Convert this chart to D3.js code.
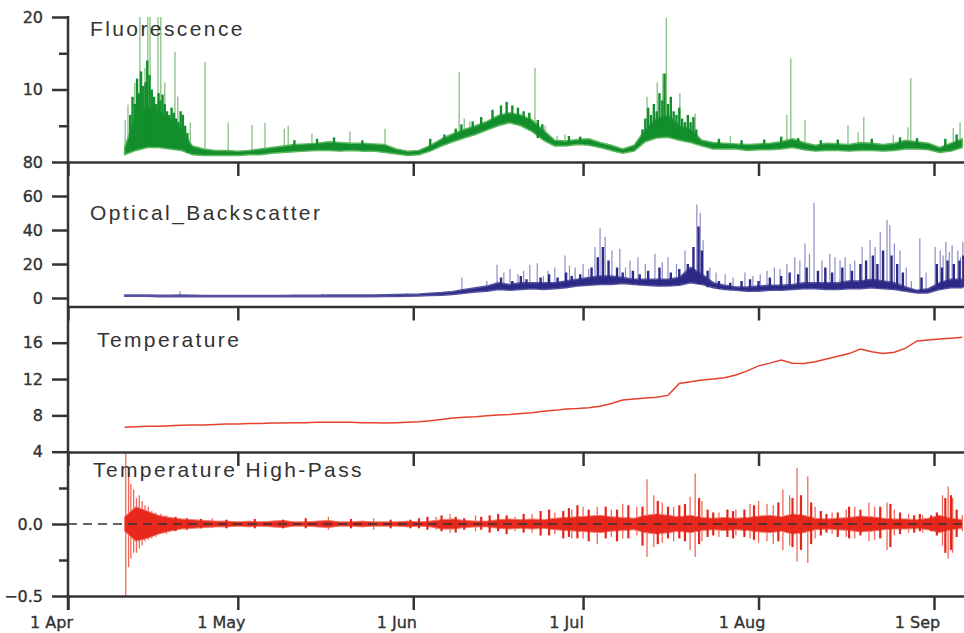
<!DOCTYPE html>
<html>
<head>
<meta charset="utf-8">
<script src="https://cdn.jsdelivr.net/npm/d3@7"></script>
<style>
  body { margin: 0; background: #fff; }
  .tick text { font-family: "DejaVu Sans", sans-serif; font-size: 16px; fill: #333; stroke: #333; stroke-width: 0.35px; }
  .title { font-family: "Liberation Sans", Arial, sans-serif; font-size: 21px; letter-spacing: 2.4px; fill: #333; }
</style>
</head>
<body>
<script>
// sample days, counted from 1 Apr
let days = [
    10, 12, 14, 16, 18, 20, 22, 24, 26, 28,
    30, 32, 34, 36, 38, 40, 42, 44, 46, 48,
    50, 52, 54, 56, 58, 60, 62, 64, 66, 68,
    70, 72, 74, 76, 78, 80, 82, 84, 86, 88,
    90, 92, 94, 96, 98, 100, 102, 104, 106, 108,
    110, 112, 114, 116, 118, 120, 122, 124, 126, 128,
    130, 132, 134, 136, 138, 140, 142, 144, 146, 148,
    150, 152, 154, 156, 158
];

let monthDays = [0, 30, 61, 91, 122, 153];
let monthLabels = ['1 Apr', '1 May', '1 Jun', '1 Jul', '1 Aug', '1 Sep'];

// Fluorescence: band (low / high), dense bursts and thin spikes, [day, value]
let fluorLo = [
    1.0, 1.6, 2.0, 2.0, 1.8, 1.6, 1.0, 0.9, 0.9, 0.9,
    0.9, 1.0, 1.0, 1.2, 1.3, 1.4, 1.5, 1.6, 1.6, 1.5,
    1.6, 1.5, 1.5, 1.3, 1.1, 0.9, 1.0, 1.5, 2.2, 2.8,
    3.3, 3.8, 4.4, 5.0, 5.4, 5.0, 4.2, 3.0, 2.2, 2.2,
    2.4, 2.3, 2.0, 1.6, 1.2, 1.5, 2.8, 3.3, 3.4, 3.0,
    2.7, 2.2, 1.8, 1.8, 1.8, 1.6, 1.7, 1.7, 1.8, 2.0,
    1.7, 1.5, 1.6, 1.6, 1.5, 1.6, 1.6, 1.5, 1.6, 1.8,
    1.8, 1.7, 1.3, 1.5, 2.0
];
let fluorHi = [
    2.0, 6.5, 7.5, 7.0, 6.0, 4.5, 2.2, 1.8, 1.6, 1.6,
    1.5, 1.6, 1.8, 2.0, 2.2, 2.4, 2.5, 2.6, 2.8, 2.7,
    2.6, 2.6, 2.5, 2.4, 1.8, 1.5, 1.6, 2.3, 3.2, 3.9,
    4.5, 5.0, 5.6, 6.4, 6.8, 6.5, 5.8, 4.4, 3.0, 2.9,
    3.1, 3.2, 2.7, 2.3, 1.8, 2.3, 4.5, 6.0, 6.5, 5.0,
    4.5, 3.0, 2.7, 2.6, 2.5, 2.4, 2.5, 2.6, 2.8, 3.2,
    2.7, 2.3, 2.6, 2.5, 2.4, 2.7, 2.6, 2.4, 2.6, 3.0,
    2.8, 2.6, 2.0, 2.6, 3.2
];
let fluorDense = [
    [11.0, 6.5], [11.4, 9.0], [11.8, 8.0], [12.2, 11.5], [12.5, 9.5], [12.9, 12.5], [13.3, 10.5],
    [13.7, 11.0], [14.0, 14.0], [14.4, 12.0], [14.8, 10.0], [15.2, 9.0], [15.6, 8.0], [16.0, 9.5],
    [16.3, 8.5], [16.7, 9.3], [17.1, 8.0], [17.5, 7.0], [17.9, 6.5], [18.3, 7.5], [18.7, 6.8],
    [19.1, 6.0], [19.5, 5.5], [19.9, 7.0], [20.3, 6.5], [20.7, 5.0], [21.1, 4.0],
    [40, 3.0], [44, 3.2], [47, 3.4], [52, 3.0],
    [64, 3.2], [66.5, 3.8], [68.5, 4.6], [69.5, 5.2], [71.5, 5.6], [73, 6.2], [75, 7.2],
    [76.5, 7.8], [77.5, 8.3], [78.5, 7.8], [79.5, 7.5], [80.5, 7.0], [81.5, 6.8], [83, 5.8],
    [83.8, 5.2], [88.5, 3.6], [90.5, 3.5],
    [101.5, 4.5], [102, 6], [102.5, 7.5], [103, 6.5], [103.5, 8], [104, 7], [104.5, 9.5],
    [105, 8.5], [105.4, 12.2], [106, 8], [106.5, 9], [107, 7], [107.5, 6.5], [108, 7.5],
    [108.5, 6], [109, 5.5], [109.5, 6.5], [110, 5.5], [110.5, 6.2], [111, 4.5],
    [115, 3.2], [119, 3.0], [123, 3.1], [126, 3.5], [129, 3.3], [133, 3.0], [136, 3.1],
    [142, 3.2], [147, 3.4], [150, 3.3], [155, 3.2], [157, 3.8]
];
let fluorSpikes = [
    [10.1, 5.8], [10.6, 7.9], [11.8, 10.9], [12.7, 20], [13.6, 13.0], [14.1, 20], [14.5, 20],
    [15.9, 20], [16.4, 20], [17.1, 11], [18.9, 15.2], [19.4, 9], [21.6, 5.5], [24.2, 13.8],
    [28.3, 5.4], [32.5, 5.1], [34.8, 5.4], [38.2, 4.6], [38.9, 5.0], [43.1, 3.9], [49.8, 4.2],
    [56, 4.6], [69.1, 12.4], [70, 6.0], [71, 5.6], [81.1, 6.0], [82.5, 13.0], [84.3, 5.0],
    [86.4, 3.6], [87.8, 3.8], [102.3, 9], [104.1, 11], [105.1, 12.2], [105.7, 19.9],
    [108.1, 9.5], [110.8, 6.7], [117, 3.6], [127, 6.5], [127.7, 14.3], [130.2, 5.8],
    [137.8, 5.1], [139.6, 4.1], [140.6, 6.2], [145.8, 3.7], [148.4, 4.8], [148.9, 11.6],
    [156.4, 4.7], [157.6, 5.5]
];

// Optical backscatter
let opticLo = [
    1.0, 1.0, 1.0, 0.8, 0.8, 0.8, 0.8, 0.7, 0.7, 0.7,
    0.7, 0.7, 0.7, 0.7, 0.7, 0.8, 0.8, 0.8, 0.8, 0.8,
    0.8, 0.8, 0.8, 0.9, 0.9, 1.0, 1.2, 1.4, 1.6, 2.0,
    2.8, 3.5, 4.0, 5.0, 4.5, 5.0, 5.5, 5.0, 5.5, 6.0,
    7.0, 7.5, 8.0, 8.0, 8.5, 8.0, 7.5, 7.0, 7.0, 7.5,
    9.0, 8.0, 6.0, 5.0, 4.5, 4.0, 4.0, 4.5, 4.5, 5.0,
    5.5, 5.5, 5.0, 5.0, 5.5, 5.5, 6.0, 5.5, 5.0, 4.0,
    3.0, 3.0, 5.0, 6.0, 6.0
];
let opticHi = [
    1.8, 1.8, 1.8, 1.6, 1.6, 1.8, 1.6, 1.4, 1.4, 1.4,
    1.4, 1.5, 1.4, 1.5, 1.5, 1.6, 1.6, 1.6, 1.7, 1.7,
    1.7, 1.8, 1.8, 1.9, 2.0, 2.2, 2.4, 2.8, 3.2, 3.8,
    5.0, 6.0, 7.0, 9, 8, 9, 9, 9, 9, 10,
    11, 12, 13, 13, 12, 11, 11, 11, 11, 12,
    18, 14, 9, 7.5, 6.5, 6.5, 7, 7.5, 7.5, 8,
    9, 9, 9, 9, 10, 10, 11, 10, 9, 6.5,
    4.5, 5.5, 9, 11, 11
];
let opticDense = [
    [76.5, 12], [78.5, 10], [80, 13], [81, 11], [83.5, 12], [85, 14], [86.5, 12], [88, 15],
    [89, 13], [90.5, 14], [92.5, 18], [93.6, 24], [94.5, 30], [95.5, 22], [97, 18], [98, 15],
    [99.8, 16], [101, 14], [102.5, 16], [104.5, 18], [106.5, 15], [108, 17], [109.5, 20],
    [110.5, 30], [111.4, 42], [112, 28], [113, 16], [115, 10], [117, 9], [119, 10], [120.5, 11],
    [122, 10], [124, 12], [126, 13], [127.5, 15], [129, 14], [130.5, 18], [132.5, 16],
    [133.8, 18], [135, 15], [136.8, 18], [138.5, 16], [140, 20], [141, 22], [142.2, 25],
    [143, 20], [144, 28], [145.5, 25], [146.5, 20], [147.5, 15], [150.8, 12], [153.5, 20],
    [154.4, 18], [155.4, 22], [156.5, 20], [157.5, 22], [158.2, 25]
];
let opticSpikes = [
    [19.8, 4], [45, 2.5], [60, 3], [69.6, 12], [74, 10], [75.8, 19.5], [77, 15], [78.1, 17],
    [79.5, 14], [80.5, 16], [81.6, 19.5], [82.9, 20.5], [84, 13], [84.8, 16], [86, 18],
    [87.8, 25], [88.6, 19], [89.6, 18], [91, 20], [92, 17], [93.1, 30], [94, 41], [94.9, 36],
    [96.1, 28], [97.5, 29], [98.5, 18], [99.3, 22], [100.7, 24], [102, 20], [103.7, 26],
    [105, 21], [106, 24], [107.5, 20], [109, 28], [111.1, 55], [111.7, 50], [112.2, 34],
    [113.4, 18], [114.5, 15], [116.1, 14], [117.5, 12], [119.6, 15], [121, 13], [122.3, 14],
    [123.5, 16], [124.8, 18], [125.8, 17], [127, 20], [128.4, 24], [129.3, 22], [130.2, 32],
    [131, 26], [131.8, 56], [133.2, 22], [134.6, 26], [135.5, 24], [136.4, 22], [137.3, 24],
    [138.2, 20], [139, 22], [140.3, 30], [141.7, 34], [142.6, 30], [143.5, 39], [144.7, 46],
    [145.2, 43], [146, 32], [147, 28], [148.1, 18], [149, 10], [150.5, 35], [151.6, 15],
    [153.2, 30], [154.1, 28], [154.6, 25], [155.1, 33], [155.7, 27], [156.2, 31], [157.2, 28],
    [157.7, 24], [158.1, 33]
];

// Temperature
let temp = [
    6.7, 6.75, 6.8, 6.8, 6.85, 6.9, 6.95, 6.95, 7.0, 7.05,
    7.05, 7.1, 7.1, 7.15, 7.15, 7.2, 7.2, 7.25, 7.25, 7.25,
    7.25, 7.2, 7.2, 7.15, 7.2, 7.25, 7.3, 7.4, 7.55, 7.7,
    7.8, 7.85, 7.95, 8.05, 8.1, 8.2, 8.3, 8.45, 8.55, 8.7,
    8.75, 8.85, 9.0, 9.3, 9.7, 9.8, 9.9, 10.0, 10.2, 11.5,
    11.7, 11.9, 12.0, 12.15, 12.45, 12.9, 13.45, 13.75, 14.1, 13.75,
    13.7, 13.9, 14.2, 14.5, 14.8, 15.3, 15.0, 14.8, 14.95, 15.4,
    16.2, 16.3, 16.4, 16.5, 16.6
];

// Temperature high-pass: band, dense bursts and tall spikes, [day, high, low]
let hpHi = [
    0.05, 0.12, 0.09, 0.06, 0.045, 0.035, 0.03, 0.025, 0.02, 0.02,
    0.015, 0.02, 0.015, 0.02, 0.025, 0.015, 0.015, 0.02, 0.025, 0.015,
    0.015, 0.02, 0.015, 0.015, 0.015, 0.02, 0.015, 0.02, 0.03, 0.035,
    0.025, 0.02, 0.02, 0.03, 0.035, 0.03, 0.035, 0.03, 0.04, 0.045,
    0.05, 0.055, 0.06, 0.05, 0.045, 0.04, 0.06, 0.07, 0.06, 0.05,
    0.06, 0.045, 0.04, 0.045, 0.04, 0.045, 0.055, 0.06, 0.05, 0.07,
    0.06, 0.04, 0.035, 0.04, 0.045, 0.055, 0.05, 0.04, 0.035, 0.035,
    0.03, 0.04, 0.06, 0.04, 0.03
];
let hpLo = [
    -0.05, -0.12, -0.1, -0.07, -0.05, -0.035, -0.03, -0.025, -0.02, -0.02,
    -0.015, -0.02, -0.015, -0.02, -0.025, -0.015, -0.015, -0.02, -0.025, -0.015,
    -0.015, -0.02, -0.015, -0.015, -0.015, -0.02, -0.015, -0.02, -0.035, -0.035,
    -0.025, -0.02, -0.02, -0.03, -0.035, -0.03, -0.035, -0.03, -0.04, -0.045,
    -0.05, -0.055, -0.06, -0.05, -0.045, -0.04, -0.06, -0.07, -0.06, -0.05,
    -0.06, -0.045, -0.04, -0.045, -0.04, -0.045, -0.055, -0.06, -0.05, -0.07,
    -0.06, -0.04, -0.035, -0.04, -0.045, -0.055, -0.05, -0.04, -0.035, -0.035,
    -0.03, -0.04, -0.06, -0.04, -0.03
];
let hpDense = [
    [19, 0.05, -0.05], [21, 0.04, -0.04], [23.5, 0.035, -0.03], [28, 0.03, -0.03], [33, 0.035, -0.03],
    [38, 0.03, -0.03], [42, 0.04, -0.03], [50, 0.035, -0.03], [57, 0.03, -0.03],
    [60.5, 0.03, -0.03], [62, 0.04, -0.03], [63.5, 0.05, -0.04], [66, 0.06, -0.05],
    [68.5, 0.05, -0.06], [70, 0.04, -0.04], [73, 0.05, -0.04], [74.5, 0.06, -0.06],
    [76, 0.07, -0.05], [77.5, 0.06, -0.07], [80.5, 0.07, -0.06], [83.5, 0.09, -0.08],
    [85, 0.1, -0.08], [87.5, 0.09, -0.1], [88.5, 0.11, -0.09], [90, 0.13, -0.1],
    [92, 0.1, -0.12], [95, 0.12, -0.1], [97, 0.1, -0.12], [99, 0.13, -0.1], [101.5, 0.12, -0.15],
    [104.2, 0.16, -0.14], [106, 0.12, -0.1], [108, 0.13, -0.1], [109, 0.14, -0.12],
    [111.5, 0.18, -0.14], [113, 0.1, -0.09], [114, 0.08, -0.08], [116.5, 0.1, -0.09],
    [117.5, 0.09, -0.1], [119.5, 0.1, -0.09], [121.2, 0.13, -0.11], [125.5, 0.15, -0.12],
    [128, 0.18, -0.16], [129.5, 0.2, -0.18], [131.3, 0.15, -0.14], [133, 0.09, -0.08],
    [134, 0.07, -0.06], [136, 0.08, -0.09], [138, 0.12, -0.1], [140, 0.1, -0.08],
    [143.5, 0.12, -0.1], [145.3, 0.14, -0.16], [147, 0.08, -0.07], [149.5, 0.06, -0.06],
    [150.5, 0.07, -0.05], [152.5, 0.06, -0.05], [153.5, 0.08, -0.08], [155, 0.18, -0.2],
    [156, 0.2, -0.18], [157, 0.1, -0.09]
];
let hpSpikes = [
    [10.2, 0.5, -0.5], [10.7, 0.36, -0.3], [11.1, 0.28, -0.24], [11.6, 0.24, -0.2],
    [12.1, 0.18, -0.2], [12.6, 0.2, -0.17], [13.1, 0.16, -0.15], [13.6, 0.13, -0.12],
    [14.2, 0.12, -0.11], [14.8, 0.09, -0.1], [15.5, 0.08, -0.09], [16.4, 0.07, -0.07],
    [17.4, 0.06, -0.07], [25.5, 0.04, -0.03], [46, 0.05, -0.04], [54, 0.04, -0.04],
    [65, 0.05, -0.04], [67.5, 0.07, -0.06], [72, 0.06, -0.05], [79, 0.05, -0.05],
    [82, 0.07, -0.06], [86, 0.08, -0.07], [89, 0.1, -0.1], [91, 0.12, -0.1],
    [93.5, 0.12, -0.14], [96, 0.1, -0.09], [98, 0.14, -0.1], [100.5, 0.12, -0.08],
    [102.3, 0.31, -0.23], [103.5, 0.2, -0.16], [105, 0.15, -0.13], [107, 0.12, -0.12],
    [109.9, 0.19, -0.18], [110.8, 0.35, -0.23], [112, 0.16, -0.12], [115, 0.08, -0.09],
    [118, 0.1, -0.08], [120.5, 0.14, -0.1], [122, 0.16, -0.13], [123.5, 0.14, -0.12],
    [124.6, 0.13, -0.14], [126.3, 0.24, -0.18], [127.5, 0.2, -0.15], [128.8, 0.39, -0.26],
    [130.7, 0.33, -0.27], [132, 0.12, -0.1], [135, 0.08, -0.07], [137.5, 0.1, -0.09],
    [139, 0.12, -0.1], [141.5, 0.15, -0.12], [142.5, 0.12, -0.11], [144.7, 0.15, -0.18],
    [146, 0.1, -0.08], [148.5, 0.07, -0.06], [151, 0.06, -0.06], [154.5, 0.2, -0.15],
    [155.5, 0.26, -0.24], [156.3, 0.18, -0.2], [158, 0.06, -0.05]
];

let width = 964;
let height = 633;

var svg = d3.select("body")
    .append("svg")
    .attr("width", width)
    .attr("height", height);

let start = Date.UTC(2007, 3, 1);
function toDate(d) {
    return new Date(start + d * 864e5);
}

// x scale shared by all panels
var x = d3.scaleUtc()
    .domain([toDate(0), toDate(158.3)])
    .range([68, 964]);

// one y scale per panel
var yFl = d3.scaleLinear().domain([0, 20]).range([162, 17]);
var yOp = d3.scaleLinear().domain([0, 80]).range([298, 162]);
var yTp = d3.scaleLinear().domain([4, 16]).range([451.7, 342.7]);
var yHp = d3.scaleLinear().domain([-0.5, 0.5]).range([596, 452]);

// clip rectangles for each panel
let panels = [
    { id: "cFl", top: 0, bottom: 162 },
    { id: "cOp", top: 162, bottom: 306.5 },
    { id: "cTp", top: 306.5, bottom: 452 },
    { id: "cHp", top: 452, bottom: 596 }
];
var defs = svg.append("defs");
panels.forEach(function (p) {
    defs.append("clipPath").attr("id", p.id)
        .append("rect")
        .attr("x", 68).attr("y", p.top)
        .attr("width", 964 - 68).attr("height", p.bottom - p.top);
});

function nearestLo(lo, day) {
    let i = Math.max(0, Math.min(days.length - 1, Math.round((day - days[0]) / 2)));
    return lo[i];
}

function spikeLines(g, y, lo, list, color, w) {
    g.append("g")
        .selectAll("line")
        .data(list)
        .enter()
        .append("line")
        .attr("x1", function (d) { return x(toDate(d[0])); })
        .attr("x2", function (d) { return x(toDate(d[0])); })
        .attr("y1", function (d) { return y(nearestLo(lo, d[0]) + 0.3); })
        .attr("y2", function (d) { return y(d[1]); })
        .attr("stroke", color)
        .attr("stroke-width", w);
}

function drawBand(y, lo, hi, dense, spikes, clip, fill, halo, spikeColor) {
    var g = svg.append("g").attr("clip-path", "url(#" + clip + ")");
    let rows = days.map(function (d, i) { return { day: d, lo: lo[i], hi: hi[i] }; });

    spikeLines(g, y, lo, spikes, spikeColor, 1.2);

    var area = d3.area()
        .x(function (d) { return x(toDate(d.day)); })
        .y0(function (d) { return y(d.lo); })
        .y1(function (d) { return y(d.hi); });

    g.append("path")
        .datum(rows)
        .attr("d", area)
        .attr("fill", fill)
        .attr("stroke", halo)
        .attr("stroke-width", 1.5)
        .attr("stroke-linejoin", "round");

    // dense bursts drawn over the band so they merge with it
    spikeLines(g, y, lo, dense, fill, 2.4);
}

// Fluorescence
drawBand(yFl, fluorLo, fluorHi, fluorDense, fluorSpikes, "cFl", "#128f2c", "#5cb85f", "#7dbb7a");

// Optical backscatter
drawBand(yOp, opticLo, opticHi, opticDense, opticSpikes, "cOp", "#2c2a86", "#5553a0", "#8e8cc6");

// Temperature line
var gTp = svg.append("g").attr("clip-path", "url(#cTp)");
gTp.append("path")
    .datum(days)
    .attr("d", d3.line()
        .x(function (d) { return x(toDate(d)); })
        .y(function (d, i) { return yTp(temp[i]); }))
    .attr("fill", "none")
    .attr("stroke", "#e6402e")
    .attr("stroke-width", 1.5);

// Temperature high-pass
var gHp = svg.append("g").attr("clip-path", "url(#cHp)");
function hpLines(list, color, w) {
    gHp.append("g")
        .selectAll("line")
        .data(list)
        .enter()
        .append("line")
        .attr("x1", function (d) { return x(toDate(d[0])); })
        .attr("x2", function (d) { return x(toDate(d[0])); })
        .attr("y1", function (d) { return yHp(d[1]); })
        .attr("y2", function (d) { return yHp(d[2]); })
        .attr("stroke", color)
        .attr("stroke-width", w);
}
hpLines(hpSpikes, "#f0685a", 1.3);

gHp.append("path")
    .datum(days)
    .attr("d", d3.area()
        .x(function (d) { return x(toDate(d)); })
        .y0(function (d, i) { return yHp(hpLo[i]); })
        .y1(function (d, i) { return yHp(hpHi[i]); }))
    .attr("fill", "#e8281c")
    .attr("stroke", "#f07a6e")
    .attr("stroke-width", 1);

hpLines(hpDense, "#e4261a", 2.2);

// dashed zero line
svg.append("line")
    .attr("x1", x.range()[0]).attr("x2", x.range()[1])
    .attr("y1", yHp(0)).attr("y2", yHp(0))
    .attr("stroke", "#333")
    .attr("stroke-width", 1.6)
    .attr("stroke-dasharray", "9,6");

// x axes: panel separators with inner ticks, bottom axis with labels
let monthDates = monthDays.map(toDate);
[162, 306.5, 452].forEach(function (yy) {
    svg.append("g")
        .attr("class", "xaxis")
        .attr("transform", "translate(0," + yy + ")")
        .call(d3.axisBottom(x).tickValues(monthDates).tickSize(14).tickSizeOuter(0).tickFormat(""));
});
var xBottom = svg.append("g")
    .attr("class", "xaxis")
    .attr("transform", "translate(0,596)")
    .call(d3.axisBottom(x)
        .tickValues(monthDates)
        .tickSize(14)
        .tickSizeOuter(0)
        .tickPadding(7)
        .tickFormat(function (d, i) { return monthLabels[i]; }));
xBottom.selectAll(".tick text").attr("dx", -17);

// y axes
function yAxis(scale, values, fmt) {
    var g = svg.append("g")
        .attr("class", "yaxis")
        .attr("transform", "translate(68,0)")
        .call(d3.axisLeft(scale).tickValues(values).tickSize(16).tickPadding(9).tickFormat(fmt));
    g.select(".domain").remove();
}
function yMinor(scale, values) {
    var g = svg.append("g")
        .attr("class", "yaxis")
        .attr("transform", "translate(68,0)")
        .call(d3.axisLeft(scale).tickValues(values).tickSize(9).tickFormat(""));
    g.select(".domain").remove();
}

let flTicks = [10, 20];
let flMinor = [5, 15];
let opTicks = [0, 20, 40, 60, 80];
let tpTicks = [4, 8, 12, 16];
let hpTicks = [-0.5, 0];
let hpMinor = [-0.25, 0.25];

yAxis(yFl, flTicks, d3.format("d"));
yMinor(yFl, flMinor);
yAxis(yOp, opTicks, d3.format("d"));
yAxis(yTp, tpTicks, d3.format("d"));
yAxis(yHp, hpTicks, d3.format(".1f"));
yMinor(yHp, hpMinor);

// left axis line
svg.append("line")
    .attr("x1", 68).attr("x2", 68)
    .attr("y1", 16).attr("y2", 610)
    .attr("stroke", "#333")
    .attr("stroke-width", 2.5);

svg.selectAll(".xaxis .domain, .xaxis line, .yaxis line")
    .attr("stroke", "#333")
    .attr("stroke-width", 2.5);

// panel titles
let titles = ["Fluorescence", "Optical_Backscatter", "Temperature", "Temperature High-Pass"];
let titlePos = [[90, 36], [90, 220], [97, 347], [93, 477]];
svg.selectAll("text.title")
    .data(titles)
    .enter()
    .append("text")
    .attr("class", "title")
    .attr("x", function (d, i) { return titlePos[i][0]; })
    .attr("y", function (d, i) { return titlePos[i][1]; })
    .text(function (d) { return d; });
</script>
</body>
</html>
